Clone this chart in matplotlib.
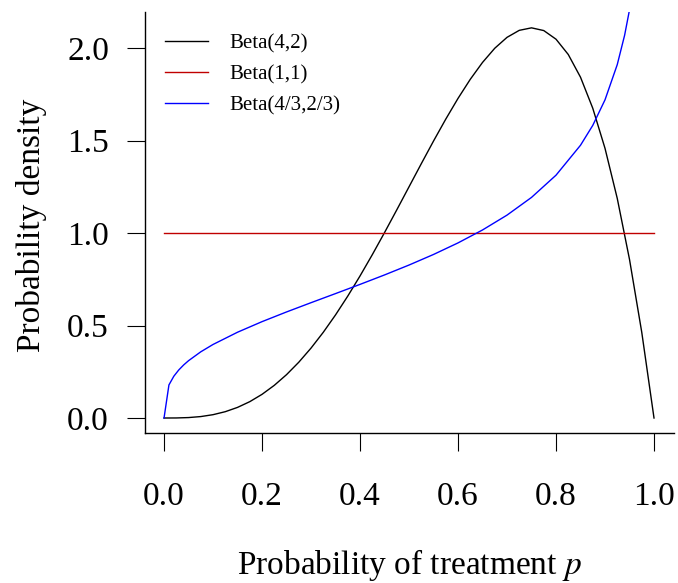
import matplotlib
matplotlib.use("Agg")
import matplotlib.pyplot as plt

# font setup (R-like Times look)
plt.rcParams["font.family"] = ["Liberation Serif", "DejaVu Serif"]
plt.rcParams["mathtext.fontset"] = "stix"

# values
p_beta42 = [0.0, 0.025, 0.05, 0.075, 0.1, 0.125, 0.15, 0.175, 0.2, 0.225,
            0.25, 0.275, 0.3, 0.325, 0.35, 0.375, 0.4, 0.425, 0.45, 0.475,
            0.5, 0.525, 0.55, 0.575, 0.6, 0.625, 0.65, 0.675, 0.7, 0.725,
            0.75, 0.775, 0.8, 0.825, 0.85, 0.875, 0.9, 0.925, 0.95, 0.975, 1.0]
d_beta42 = [0.0, 0.0003, 0.0024, 0.0078, 0.018, 0.0342, 0.0574, 0.0884, 0.128, 0.1766,
            0.2344, 0.3016, 0.378, 0.4634, 0.5574, 0.6592, 0.768, 0.8828, 1.0024, 1.1253,
            1.25, 1.3747, 1.4974, 1.6159, 1.728, 1.8311, 1.9224, 1.9991, 2.058, 2.0959,
            2.1094, 2.0947, 2.048, 1.9653, 1.8424, 1.6748, 1.458, 1.1872, 0.8574, 0.4634, 0.0]

p_beta11 = [0.0, 1.0]
d_beta11 = [1.0, 1.0]

p_beta43 = [0.0, 0.01, 0.02, 0.03, 0.04, 0.05, 0.075, 0.1, 0.15, 0.2,
            0.25, 0.3, 0.35, 0.4, 0.45, 0.5, 0.55, 0.6, 0.65, 0.7,
            0.75, 0.8, 0.85, 0.875, 0.9, 0.925, 0.94, 0.95, 0.96]
d_beta43 = [0.0, 0.1788, 0.226, 0.2596, 0.2867, 0.3099, 0.3579, 0.3976, 0.4638, 0.521,
            0.5734, 0.6235, 0.6727, 0.7224, 0.7735, 0.827, 0.8842, 0.9467, 1.0166, 1.0969,
            1.1927, 1.3128, 1.4747, 1.582, 1.7202, 1.9107, 2.0693, 2.2067, 2.3854]

labels = ["Beta(4,2)", "Beta(1,1)", "Beta(4/3,2/3)"]
xticks = [0.0, 0.2, 0.4, 0.6, 0.8, 1.0]
yticks = [0.0, 0.5, 1.0, 1.5, 2.0]

fig = plt.figure(figsize=(6.78, 5.83), dpi=100)
ax = fig.add_axes([0.2139, 0.2573, 0.7802, 0.7221])

ax.plot(p_beta42, d_beta42, color="black", lw=1.0, label=labels[0])
ax.plot(p_beta11, d_beta11, color="#c00000", lw=1.0, label=labels[1])
ax.plot(p_beta43, d_beta43, color="blue", lw=1.0, label=labels[2])

ax.set_xlim(-0.0388, 1.0408)
ax.set_ylim(-0.081, 2.195)

# R style "L" box
ax.spines["top"].set_visible(False)
ax.spines["right"].set_visible(False)
for s in ["left", "bottom"]:
    ax.spines[s].set_linewidth(1.0)

ax.set_xticks(xticks)
ax.set_xticklabels(["%.1f" % v for v in xticks])
ax.set_yticks(yticks)
ax.set_yticklabels(["%.1f" % v for v in yticks])
ax.tick_params(axis="x", direction="out", length=13, width=0.8, pad=22, labelsize=24)
ax.tick_params(axis="y", direction="out", length=13, width=0.8, pad=13, labelsize=24)

ax.set_xlabel(r"Probability of treatment $p$", fontsize=24, va="center")
ax.set_ylabel("Probability density", fontsize=24, va="center")
ax.xaxis.set_label_coords(0.499, -0.3135)
ax.yaxis.set_label_coords(-0.215, 0.494)

ax.legend(loc="upper left", bbox_to_anchor=(0.0378, 0.948), frameon=False,
          fontsize=15, handlelength=2.07, handletextpad=1.0,
          labelspacing=0.55, borderaxespad=0.0, borderpad=0.0)

plt.savefig("out.png", dpi=100)
